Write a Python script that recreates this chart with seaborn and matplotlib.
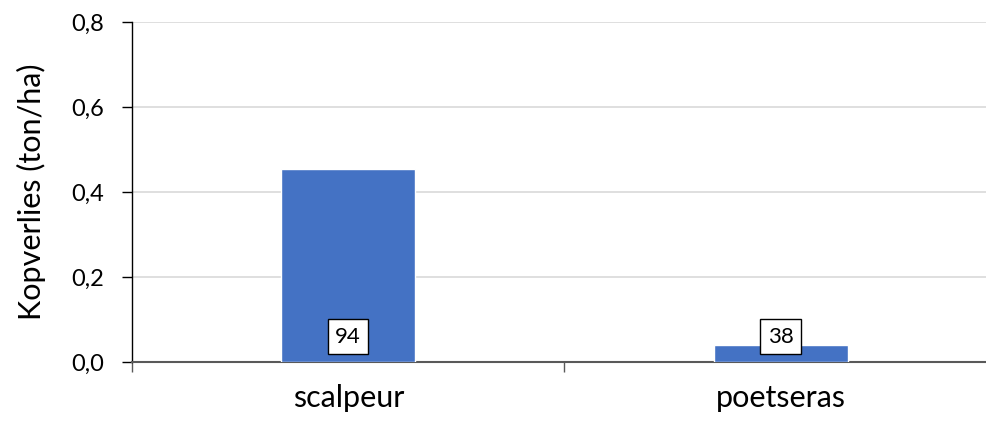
import matplotlib
matplotlib.use("Agg")
import matplotlib.pyplot as plt
import seaborn as sns
import pandas as pd
from matplotlib.ticker import FuncFormatter, FixedLocator

categories = ["scalpeur", "poetseras"]
values = [0.454, 0.040]
counts = [94, 38]
yticks = [0.0, 0.2, 0.4, 0.6, 0.8]

sns.set_theme(style="white")
plt.rcParams['font.family'] = ['Lato', 'DejaVu Sans']

df = pd.DataFrame({"cat": categories, "val": values})

W, H = 987, 423
fig = plt.figure(figsize=(W / 100, H / 100), dpi=100)
left, right, top, bottom = 132, 997, 22, 362
ax = fig.add_axes([left / W, 1 - bottom / H, (right - left) / W, (bottom - top) / H])

sns.barplot(data=df, x="cat", y="val", color="#4472C4", width=0.31, saturation=1, ax=ax, zorder=3)

ax.set_xlim(-0.5, 1.5)
ax.set_ylim(0, 0.8)
ax.set_yticks(yticks)
ax.yaxis.set_major_formatter(FuncFormatter(lambda v, p: f"{v:.1f}".replace(".", ",")))
ax.grid(axis="y", color="#d9d9d9", linewidth=1.2, zorder=0)
ax.set_axisbelow(True)

for s in ["top", "right"]:
    ax.spines[s].set_visible(False)
ax.spines["left"].set_color("#000000")
ax.spines["left"].set_linewidth(1.0)
ax.spines["bottom"].set_color("#595959")
ax.spines["bottom"].set_linewidth(1.5)

ax.tick_params(axis="y", which="major", length=7, width=1, color="#000000", labelsize=17, pad=13, left=True,
               labelcolor="#000000")
ax.tick_params(axis="x", which="major", length=0, labelsize=22, pad=16, labelcolor="#000000")
ax.xaxis.set_minor_locator(FixedLocator([-0.5, 0.5, 1.5]))
ax.tick_params(axis="x", which="minor", length=7, width=1, color="#595959", bottom=True)

ax.set_xlabel("")
ax.set_ylabel("Kopverlies (ton/ha)", fontsize=22, labelpad=18, color="#000000")

for i, c in enumerate(counts):
    ax.text(i, 0.06, str(c), ha="center", va="center", fontsize=16, zorder=5, color="#000000",
            bbox=dict(boxstyle="square,pad=0.33", facecolor="white", edgecolor="black", linewidth=1))

fig.savefig("out.png", dpi=100)
